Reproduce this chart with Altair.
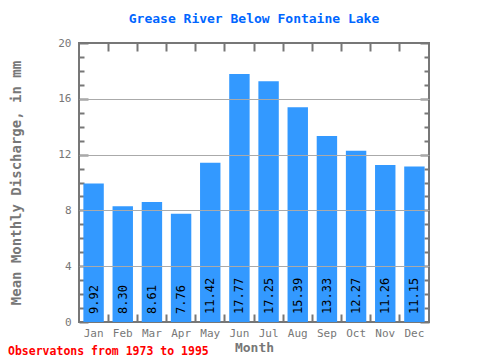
import altair as alt
import pandas as pd

months = ["Jan", "Feb", "Mar", "Apr", "May", "Jun", "Jul", "Aug", "Sep", "Oct", "Nov", "Dec"]
values = [9.92, 8.30, 8.61, 7.76, 11.42, 17.77, 17.25, 15.39, 13.33, 12.27, 11.26, 11.15]
labels = ["9.92", "8.30", "8.61", "7.76", "11.42", "17.77", "17.25", "15.39", "13.33", "12.27", "11.26", "11.15"]
y_label_values = [0, 4, 8, 12, 16, 20]
y_tick_values = list(range(0, 21))
title_text = "Grease River Below Fontaine Lake"
footnote = "Observatons from 1973 to 1995"

W, H = 350, 279
FONT = "DejaVu Sans Mono"
GRAY = "#777777"

df = pd.DataFrame({"month": months, "value": values, "label": labels})
note_df = pd.DataFrame({"note": [footnote]})

xscale = alt.Scale(paddingInner=0, paddingOuter=0)
yscale = alt.Scale(domain=[0, 20], nice=False)

major_size = {"condition": {"test": "datum.value % 4 === 0", "value": 9}, "value": 5}

base = alt.Chart(df)

bars = base.mark_bar(color="#3399ff", width=alt.RelativeBandSize(0.7)).encode(
    x=alt.X("month:N", sort=months, scale=xscale,
            axis=alt.Axis(orient="bottom", ticks=False, domain=False, labelAngle=0,
                          labelFont=FONT, labelFontSize=11, labelColor=GRAY, labelPadding=5,
                          title="Month", titleFont=FONT, titleFontSize=13, titleFontWeight="bold",
                          titleColor=GRAY, titlePadding=3)),
    y=alt.Y("value:Q", scale=yscale,
            axis=alt.Axis(orient="left", values=y_label_values, ticks=False, domain=False,
                          grid=True, gridColor={"condition": {"test": "datum.value === 0 || datum.value === 20",
                                                             "value": "transparent"}, "value": "#aaaaaa"},
                          zindex=1,
                          labelFont=FONT, labelFontSize=11, labelColor=GRAY, labelPadding=8,
                          title="Mean Monthly Discharge, in mm", titleFont=FONT, titleFontSize=14,
                          titleFontWeight="bold", titleColor=GRAY, titlePadding=34)),
)

text = base.mark_text(angle=270, align="left", baseline="middle", dx=8,
                      font=FONT, fontSize=12, color="black").encode(
    x=alt.X("month:N", sort=months, scale=xscale, axis=None),
    y=alt.Y(datum=0, scale=yscale, axis=None),
    text="label:N",
)

def tick_layer(xaxis, yaxis):
    return base.mark_point(opacity=0).encode(
        x=alt.X("month:N", sort=months, scale=xscale, axis=xaxis),
        y=alt.Y("value:Q", scale=yscale, axis=yaxis),
    )

common_tick = dict(labels=False, domain=False, grid=False, title=None, tickColor=GRAY, tickWidth=2)

left_ticks = tick_layer(None, alt.Axis(orient="right", offset=-W, values=y_tick_values,
                                       tickSize=major_size, **common_tick))
right_ticks = tick_layer(None, alt.Axis(orient="left", offset=-W, values=y_tick_values,
                                        tickSize=major_size, **common_tick))
top_ticks = tick_layer(alt.Axis(orient="bottom", offset=-H, values=months[1:], bandPosition=0,
                                tickSize=8, **common_tick), None)
bottom_ticks = tick_layer(alt.Axis(orient="top", offset=-H, values=months[1:], bandPosition=0,
                                   tickSize=8, **common_tick), None)

note = alt.Chart(note_df).mark_text(align="left", baseline="alphabetic", font=FONT, fontSize=11.5,
                                    fontWeight="bold", color="#ff0000").encode(
    x=alt.value(-71), y=alt.value(312), text="note:N")

chart = alt.layer(bars, text, left_ticks, right_ticks, top_ticks, bottom_ticks, note).resolve_axis(
    x="independent", y="independent"
).properties(
    width=W, height=H,
    title=alt.TitleParams(title_text, font=FONT, fontSize=13, fontWeight="bold", color="#0066ff",
                          anchor="middle", offset=11),
    padding={"left": 71, "top": 35, "right": 43, "bottom": 36},
    autosize=alt.AutoSizeParams(type="none"),
).configure_view(stroke=GRAY, strokeWidth=2)

chart.save("out.html", embed_options={"renderer": "svg", "actions": False})
